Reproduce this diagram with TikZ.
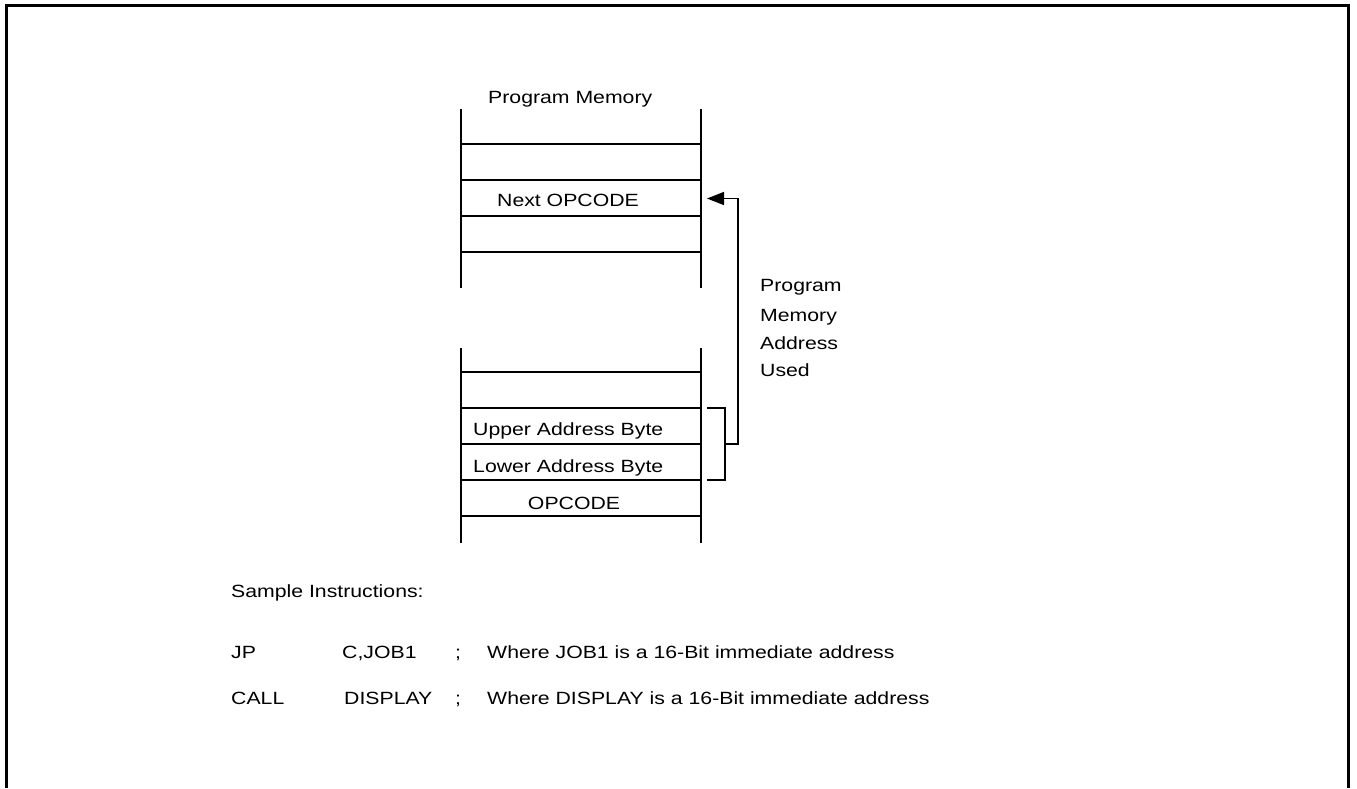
\documentclass[tikz,border=0pt]{standalone}
\usepackage{fontspec}
\setmainfont{Liberation Sans}
\newfontfamily\labfont[FakeStretch=1.2]{Liberation Sans}
\usetikzlibrary{arrows.meta}

\begin{document}
\begin{tikzpicture}[x=1pt,y=1pt,
  frame/.style={line width=3.5pt},
  cell/.style={line width=1.6pt},
  link/.style={line width=1.6pt},
  arr/.style={link,-{Triangle[length=17pt,width=13pt]}},
  lab/.style={inner sep=0pt,anchor=base west,font=\labfont\fontsize{17.7}{21}\selectfont},
  labc/.style={lab,anchor=base},
]
\useasboundingbox (0,0) rectangle (1357,-788);

% page frame, open at the bottom
\draw[frame] (6.5,-788) -- (6.5,-5.5) -- (1348.7,-5.5) -- (1348.7,-788);

% upper part of program memory
\coordinate (ua) at (461,-109);
\coordinate (ub) at (701,-109);
\draw[cell] (ua) -- (461,-288);
\draw[cell] (ub) -- (701,-288);
\foreach \y in {144,180,216,252}
  \draw[cell] (461,-\y) -- (701,-\y);

% lower part of program memory
\coordinate (la) at (461,-348);
\coordinate (lb) at (701,-348);
\draw[cell] (la) -- (461,-543);
\draw[cell] (lb) -- (701,-543);
\foreach \y in {372,408,444,480,516}
  \draw[cell] (461,-\y) -- (701,-\y);

% labels
\node[lab]  (title) at (488,-103.3) {Program Memory};
\node[labc] (next)  at (568,-206)   {Next OPCODE};
\node[lab]  (upper) at (473,-435)   {Upper Address Byte};
\node[lab]  (lower) at (473,-472.7) {Lower Address Byte};
\node[labc] (opc)   at (574,-509)   {OPCODE};

\node[lab] (n1) at (760,-291.7) {Program};
\node[lab] (n2) at (760,-321)   {Memory};
\node[lab] (n3) at (760,-349.3) {Address};
\node[lab] (n4) at (760,-376.7) {Used};

% address bytes bracket and pointer to the next opcode
\coordinate (bt) at (707,-408);
\coordinate (bb) at (707,-480);
\coordinate (bm) at (725,-444);
\coordinate (target) at (707,-198.5);
\draw[link] (bt) -- (725,-408) -- (725,-480) -- (bb);
\draw[arr] (bm) -- (738,-444) -- (738,-198.5) -- (target);

% sample instructions
\node[lab] (si) at (231,-597) {Sample Instructions:};
\node[lab] (m1) at (231,-658) {JP};
\node[lab] (o1) at (342,-658) {C,JOB1};
\node[lab] (s1) at (455,-658) {;};
\node[lab] (c1) at (487,-658) {Where JOB1 is a 16-Bit immediate address};
\node[lab] (m2) at (231,-704) {CALL};
\node[lab] (o2) at (344,-704) {DISPLAY};
\node[lab] (s2) at (455,-704) {;};
\node[lab] (c2) at (487,-704) {Where DISPLAY is a 16-Bit immediate address};
\end{tikzpicture}
\end{document}
